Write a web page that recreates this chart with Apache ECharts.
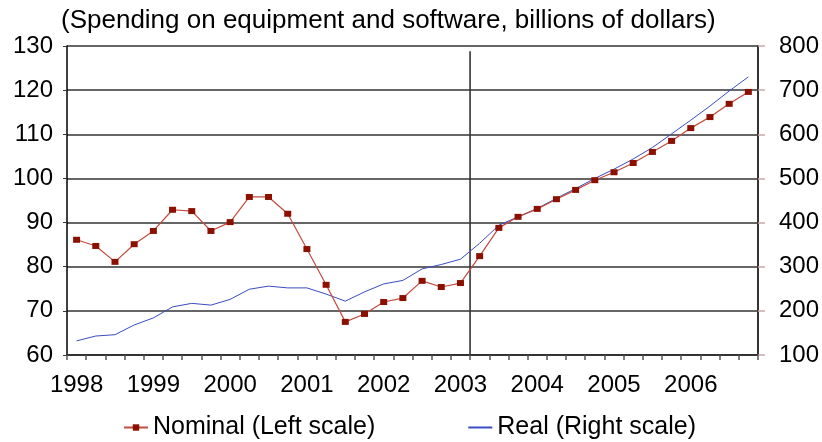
<!DOCTYPE html>
<html>
<head>
<meta charset="utf-8">
<script src="https://cdn.jsdelivr.net/npm/echarts@6/dist/echarts.min.js"></script>
<style>
html,body{margin:0;padding:0;background:#fff;}
#chart{width:822px;height:442px;}
</style>
</head>
<body>
<div id="chart"></div>
<script>
var years = ['1998','1999','2000','2001','2002','2003','2004','2005','2006'];
var quarters = [];
years.forEach(function (y) { ['Q1','Q2','Q3','Q4'].forEach(function (q) { quarters.push(y + q); }); });

var nominal = [86.1, 84.7, 81.1, 85.1, 88.1, 92.9, 92.6, 88.1, 90.1, 95.8,
               95.8, 92.0, 84.0, 75.9, 67.5, 69.3, 72.0, 72.9, 76.8, 75.4,
               76.3, 82.4, 88.8, 91.3, 93.1, 95.3, 97.4, 99.6, 101.4, 103.5,
               106.0, 108.5, 111.4, 113.9, 116.9, 119.6];
var real = [132, 143, 146, 168, 184, 209, 217, 213, 226, 249,
            256, 252, 252, 238, 222, 243, 261, 269, 295, 305,
            317, 353, 394, 413, 432, 455, 477, 500, 521, 544,
            570, 601, 632, 664, 698, 730];
var dividerLine = [[21, 60], [21, 128.8]];

var leftTicks = {min: 60, max: 130, interval: 10};
var rightTicks = {min: 100, max: 800, interval: 100};

var chart = echarts.init(document.getElementById('chart'), null, {renderer: 'canvas'});
var font = 'Liberation Sans, Arial, sans-serif';
chart.setOption({
  animation: false,
  backgroundColor: '#ffffff',
  title: {
    text: '(Spending on equipment and software, billions of dollars)',
    left: 56, top: 3,
    textStyle: {fontFamily: font, fontSize: 26, fontWeight: 'normal', color: '#000'}
  },
  legend: {
    data: [
      {name: 'Nominal (Left scale)'},
      {name: 'Real (Right scale)', itemStyle: {opacity: 0}}
    ],
    left: 118, top: 410,
    itemWidth: 24, itemHeight: 8, itemGap: 92,
    textStyle: {fontFamily: font, fontSize: 25, color: '#000'}
  },
  grid: {left: 67, right: 63, top: 46, bottom: 87, containLabel: false},
  xAxis: [{
    type: 'category',
    data: quarters,
    boundaryGap: true,
    axisLine: {show: true, lineStyle: {color: '#333', width: 2}},
    axisTick: {show: true, interval: 0, length: 5, inside: false, lineStyle: {color: '#555', width: 1.5}},
    axisLabel: {
      interval: 3, margin: 18,
      fontFamily: font, fontSize: 24, color: '#000',
      formatter: function (v, i) { return years[Math.floor(i / 4)]; }
    },
    splitLine: {show: false}
  }, {
    type: 'value', min: 0, max: 36, show: false
  }],
  yAxis: [{
    type: 'value', position: 'left',
    min: leftTicks.min, max: leftTicks.max, interval: leftTicks.interval,
    axisLine: {show: true, lineStyle: {color: '#000', width: 1.5}},
    axisTick: {show: true, length: 4, lineStyle: {color: '#333', width: 1}},
    axisLabel: {margin: 14, fontFamily: font, fontSize: 24, color: '#000'},
    splitLine: {show: true, lineStyle: {color: '#333', width: 1.7}}
  }, {
    type: 'value', position: 'right',
    min: rightTicks.min, max: rightTicks.max, interval: rightTicks.interval,
    axisLine: {show: true, lineStyle: {color: '#333', width: 2}},
    axisTick: {show: true, length: 7, lineStyle: {color: '#c9a8a8', width: 1.5}},
    axisLabel: {margin: 21, fontFamily: font, fontSize: 24, color: '#000'},
    splitLine: {show: false}
  }],
  series: [{
    name: 'divider',
    type: 'line',
    xAxisIndex: 1, yAxisIndex: 0,
    data: dividerLine,
    symbol: 'none', silent: true,
    lineStyle: {color: '#333', width: 1.6},
    z: 1
  }, {
    name: 'Nominal (Left scale)',
    type: 'line',
    xAxisIndex: 0, yAxisIndex: 0,
    data: nominal,
    symbol: 'rect', symbolSize: [7, 6],
    itemStyle: {color: '#8b1000'},
    lineStyle: {color: '#c24a3e', width: 1.2},
    z: 3
  }, {
    name: 'Real (Right scale)',
    type: 'line',
    xAxisIndex: 0, yAxisIndex: 1,
    data: real,
    symbol: 'none', showSymbol: false,
    itemStyle: {color: '#3a4cc0'},
    lineStyle: {color: '#3a4cc0', width: 1},
    z: 2
  }]
});
</script>
</body>
</html>
